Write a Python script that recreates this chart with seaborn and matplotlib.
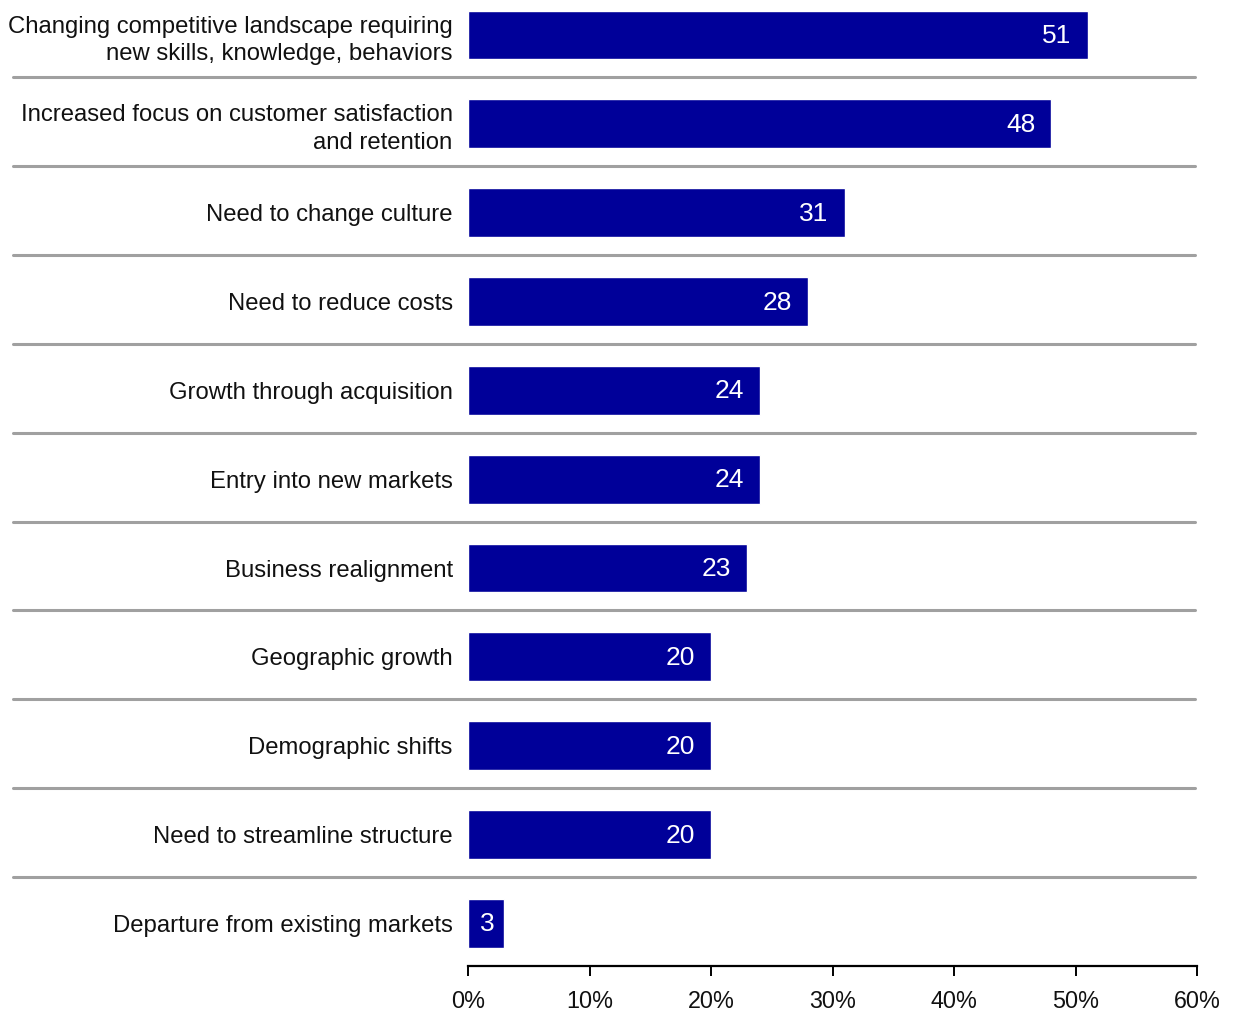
import matplotlib
matplotlib.use("Agg")
import matplotlib.pyplot as plt
import seaborn as sns
import pandas as pd
from matplotlib.ticker import FuncFormatter

categories = [
    "Changing competitive landscape requiring\nnew skills, knowledge, behaviors",
    "Increased focus on customer satisfaction\nand retention",
    "Need to change culture",
    "Need to reduce costs",
    "Growth through acquisition",
    "Entry into new markets",
    "Business realignment",
    "Geographic growth",
    "Demographic shifts",
    "Need to streamline structure",
    "Departure from existing markets",
]
values = [51, 48, 31, 28, 24, 24, 23, 20, 20, 20, 3]
xticks = [0, 10, 20, 30, 40, 50, 60]

df = pd.DataFrame({"cat": categories, "val": values})

sns.set_theme(style="white")
plt.rcParams["font.family"] = ["Liberation Sans", "DejaVu Sans"]

fig = plt.figure(figsize=(12.37, 10.13), dpi=100)
ax = fig.add_axes([468 / 1237, 1 - 966 / 1013, 729 / 1237, 966 / 1013])

sns.barplot(data=df, x="val", y="cat", color="#000099", saturation=1,
            width=0.55, ax=ax, orient="h")

ax.set_xlim(0, 60)
ax.set_ylim(10.48, -0.394)
ax.set_xticks(xticks)
ax.xaxis.set_major_formatter(FuncFormatter(lambda v, p: f"{int(v)}%"))
ax.set_xlabel("")
ax.set_ylabel("")

for s in ["top", "right", "left"]:
    ax.spines[s].set_visible(False)
ax.spines["bottom"].set_color("black")
ax.spines["bottom"].set_linewidth(1.6)

ax.tick_params(axis="x", direction="out", length=7, width=1.4, color="black",
               labelsize=16.8, pad=10, bottom=True, labelcolor="#111111")
ax.tick_params(axis="y", length=0, labelsize=17.2, pad=11, labelcolor="#111111")
for lbl in ax.get_yticklabels():
    lbl.set_horizontalalignment("right")
    lbl.set_multialignment("right")
    if "\n" in lbl.get_text():
        lbl.set_linespacing(1.35)

# separators between categories
xmin_frac = (13 - 468) / 729
xmax_frac = (1195 - 468) / 729
for i in range(len(categories) - 1):
    ax.axhline(i + 0.478, xmin=xmin_frac, xmax=xmax_frac, color="#a0a0a0",
               linewidth=2.2, clip_on=False, zorder=0)

# value labels
for i, v in enumerate(values):
    off = -16 if v > 5 else -10
    ax.annotate(f"{v}", xy=(v, i), xytext=(off, -1), textcoords="offset pixels",
                ha="right", va="center", color="white", fontsize=19)

fig.savefig("out.png", dpi=100)
